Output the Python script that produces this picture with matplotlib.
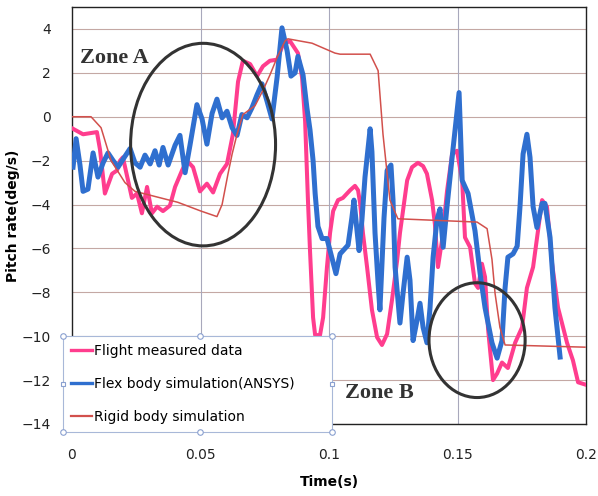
import numpy as np
import matplotlib
matplotlib.use("Agg")
import matplotlib.pyplot as plt
from matplotlib.patches import Ellipse

# ----------------------------------------------------
# DATA

flight_t = [0.0004, 0.0043, 0.0097, 0.0109, 0.0128, 0.0156, 0.0175, 0.0187, 0.0198,
            0.0218, 0.0233, 0.0253, 0.0272, 0.0292, 0.0311, 0.0331, 0.0354, 0.0381,
            0.0401, 0.0428, 0.0447, 0.0471, 0.0498, 0.0525, 0.0549, 0.0576, 0.0603,
            0.0626, 0.0646, 0.0665, 0.0693, 0.0720, 0.0743, 0.0770, 0.0798, 0.0821,
            0.0848, 0.0879, 0.0895, 0.0907, 0.0918, 0.0926, 0.0938, 0.0946, 0.0965,
            0.0977, 0.0992, 0.1004, 0.1016, 0.1035, 0.1054, 0.1082, 0.1101, 0.1113,
            0.1121, 0.1132, 0.1148, 0.1167, 0.1187, 0.1206, 0.1226, 0.1245, 0.1265,
            0.1276, 0.1304, 0.1323, 0.1346, 0.1366, 0.1381, 0.1401, 0.1412, 0.1424,
            0.1440, 0.1459, 0.1479, 0.1498, 0.1518, 0.1529, 0.1549, 0.1568, 0.1580,
            0.1595, 0.1607, 0.1619, 0.1638, 0.1654, 0.1673, 0.1696, 0.1724, 0.1751,
            0.1770, 0.1794, 0.1813, 0.1829, 0.1848, 0.1868, 0.1891, 0.1926, 0.1949,
            0.1969, 0.1996]
flight_v = [-0.55, -0.8, -0.7, -1.5, -3.5, -2.6, -2.45, -2.0, -1.85,
            -2.9, -3.7, -3.5, -4.4, -3.2, -4.4, -4.1, -4.3, -4.05,
            -3.2, -2.45, -2.0, -2.3, -3.4, -3.05, -3.45, -2.6, -2.15,
            -0.8, 1.6, 2.55, 2.4, 1.85, 2.3, 2.55, 2.6, 3.3,
            3.45, 2.9, 1.8, -0.2, -3.8, -6.1, -9.15, -9.95, -9.95,
            -9.15, -6.85, -5.3, -4.3, -3.8, -3.7, -3.35, -3.15, -3.35,
            -3.95, -5.3, -6.85, -8.8, -10.05, -10.4, -9.9, -8.35, -6.55,
            -5.3, -2.9, -2.3, -2.1, -2.25, -2.6, -3.8, -4.9, -6.85,
            -5.6, -3.4, -1.7, -1.55, -2.9, -5.5, -5.95, -7.6, -7.8,
            -6.7, -7.3, -9.7, -12.0, -11.7, -11.2, -11.45, -10.3, -9.6,
            -7.8, -6.85, -5.2, -3.8, -4.1, -6.7, -8.7, -10.3, -11.1,
            -12.1, -12.2]

flex_t = [0.0004, 0.0016, 0.0031, 0.0043, 0.0062, 0.0082, 0.0101, 0.0121, 0.0140,
          0.0160, 0.0179, 0.0198, 0.0226, 0.0245, 0.0265, 0.0284, 0.0304, 0.0323,
          0.0339, 0.0354, 0.0374, 0.0401, 0.0420, 0.0440, 0.0459, 0.0486, 0.0506,
          0.0525, 0.0545, 0.0564, 0.0584, 0.0603, 0.0623, 0.0642, 0.0661, 0.0681,
          0.0700, 0.0720, 0.0739, 0.0759, 0.0778, 0.0798, 0.0817, 0.0837, 0.0852,
          0.0868, 0.0879, 0.0899, 0.0914, 0.0926, 0.0938, 0.0946, 0.0957, 0.0973,
          0.0992, 0.1004, 0.1027, 0.1043, 0.1074, 0.1089, 0.1097, 0.1109, 0.1117,
          0.1128, 0.1140, 0.1160, 0.1167, 0.1179, 0.1191, 0.1198, 0.1214, 0.1226,
          0.1241, 0.1249, 0.1257, 0.1276, 0.1288, 0.1304, 0.1315, 0.1327, 0.1342,
          0.1354, 0.1366, 0.1381, 0.1393, 0.1405, 0.1420, 0.1432, 0.1444, 0.1459,
          0.1479, 0.1506, 0.1518, 0.1541, 0.1568, 0.1588, 0.1607, 0.1634, 0.1654,
          0.1673, 0.1685, 0.1696, 0.1716, 0.1732, 0.1743, 0.1755, 0.1770, 0.1782,
          0.1794, 0.1809, 0.1829, 0.1840, 0.1860, 0.1879, 0.1899]
flex_v = [-2.3, -1.0, -2.2, -3.4, -3.3, -1.65, -2.75, -2.1, -1.65,
          -2.0, -2.3, -1.95, -1.45, -2.1, -2.3, -1.75, -2.15, -1.55,
          -2.2, -1.4, -2.2, -1.3, -0.85, -2.55, -1.3, 0.55, -0.1,
          -1.25, 0.15, 0.8, -0.05, 0.25, -0.5, -0.85, 0.1, -0.05,
          0.4, 1.0, 1.5, 0.7, -0.1, 1.8, 4.05, 3.0, 1.85,
          2.0, 2.75, 1.9, 0.4, -0.6, -2.0, -3.5, -5.0, -5.55,
          -5.55, -6.1, -7.15, -6.25, -5.85, -4.6, -3.8, -5.2, -6.1,
          -4.7, -2.75, -0.55, -1.6, -5.3, -7.6, -8.8, -4.6, -2.45,
          -2.2, -3.8, -6.85, -9.4, -8.05, -6.4, -7.45, -10.2, -9.3,
          -8.5, -9.6, -10.3, -8.7, -6.4, -4.7, -4.2, -5.95, -4.1,
          -1.85, 1.1, -2.9, -3.5, -5.2, -7.15, -8.7, -10.3, -11.0,
          -10.2, -7.8, -6.4, -6.25, -5.9, -4.1, -1.7, -0.8, -1.85,
          -4.1, -5.05, -3.95, -3.95, -5.5, -8.7, -10.95]

rigid_t = [0.0, 0.0074, 0.0113, 0.0152, 0.0206, 0.0245, 0.0412, 0.0502, 0.0564,
           0.0584, 0.0607, 0.0623, 0.0642, 0.0665, 0.0712, 0.0743, 0.0770, 0.0798,
           0.0829, 0.0840, 0.0934, 0.1023, 0.1043, 0.1160, 0.1191, 0.1210, 0.1237,
           0.1268, 0.1576, 0.1615, 0.1634, 0.1646, 0.1665, 0.1685, 0.1996]
rigid_v = [0.0, 0.0, -0.5, -2.0, -3.0, -3.4, -3.9, -4.3, -4.55,
           -4.0, -2.6, -1.7, -0.8, 0.1, 0.5, 1.2, 1.9, 2.7,
           3.45, 3.55, 3.35, 2.9, 2.85, 2.85, 2.1, -0.8, -3.8,
           -4.65, -4.8, -5.1, -6.5, -8.05, -9.6, -10.4, -10.5]

labels = ["Flight measured data", "Flex body simulation(ANSYS)", "Rigid body simulation"]
x_ticks = [0, 0.05, 0.1, 0.15, 0.2]
x_ticklabels = ["0", "0.05", "0.1", "0.15", "0.2"]
y_ticks = list(range(-14, 5, 2))

# ----------------------------------------------------
# FIGURE

fig = plt.figure(figsize=(5.98, 4.96), dpi=100)
ax = fig.add_axes([0.1204, 0.1452, 0.8596, 0.8407])

ax.plot(flight_t, flight_v, color="#ff3d8e", lw=2.9, solid_joinstyle="round",
        label=labels[0], zorder=3)
ax.plot(flex_t, flex_v, color="#2f6fcf", lw=3.6, solid_joinstyle="round",
        label=labels[1], zorder=4)
ax.plot(rigid_t, rigid_v, color="#d2504c", lw=1.1, label=labels[2], zorder=5)

ax.set_xlim(0, 0.2)
ax.set_ylim(-14, 5)
ax.set_xticks(x_ticks)
ax.set_xticklabels(x_ticklabels)
ax.set_yticks(y_ticks)
ax.tick_params(length=0, labelsize=10, colors="#222222")
ax.tick_params(axis="x", pad=17)
ax.tick_params(axis="y", pad=15)

# grid
for y in y_ticks:
    ax.axhline(y, color="#c4a8a4", lw=0.8, zorder=1)
for x in x_ticks[1:-1]:
    ax.axvline(x, color="#a8a8bc", lw=0.8, zorder=1)

for s in ax.spines.values():
    s.set_color("#222222")
    s.set_linewidth(1.0)

ax.set_xlabel("Time(s)", fontsize=10, fontweight="bold")
ax.set_ylabel("Pitch rate(deg/s)", fontsize=10, fontweight="bold")
ax.xaxis.set_label_coords(0.5, -0.122)
ax.yaxis.set_label_coords(-0.102, 0.5)

# zones
ax.add_patch(Ellipse((0.051, -1.27), 0.0564, 9.23, fill=False, ec="#333333",
                     lw=2.2, zorder=6))
ax.add_patch(Ellipse((0.1576, -10.18), 0.0374, 5.23, fill=False, ec="#333333",
                     lw=2.2, zorder=6))
ax.text(0.0031, 2.68, "Zone A", family="Liberation Serif", fontweight="bold",
        fontsize=16, color="#333333", va="center", zorder=7)
ax.text(0.1062, -12.6, "Zone B", family="Liberation Serif", fontweight="bold",
        fontsize=16, color="#333333", va="center", zorder=7)

# legend
leg = ax.legend(loc="lower left", bbox_to_anchor=(-0.0175, -0.019, 0.523, 0.23),
                mode="expand", borderaxespad=0, fontsize=10, handlelength=1.5,
                handletextpad=0.15, labelspacing=1.35, borderpad=0.6,
                fancybox=False, framealpha=1.0, edgecolor="#a8b8d8")
leg.get_frame().set_linewidth(0.8)
leg.set_zorder(8)
for h, w in zip(leg.legend_handles, [2.4, 2.4, 1.6]):
    h.set_linewidth(w)

# selection handles on the legend box
hx = [-0.0175, 0.2495, 0.5055, -0.0175, 0.2495, 0.5055]
hy = [0.211, 0.211, 0.211, -0.019, -0.019, -0.019]
ax.plot(hx, hy, "o", ms=4, mfc="white", mec="#8aa0d0", mew=0.8,
        transform=ax.transAxes, clip_on=False, zorder=9)
ax.plot([-0.0175, 0.5055], [0.096, 0.096], "s", ms=3.5, mfc="white", mec="#8aa0d0",
        mew=0.8, transform=ax.transAxes, clip_on=False, zorder=9)

fig.savefig("out.png", dpi=100)
